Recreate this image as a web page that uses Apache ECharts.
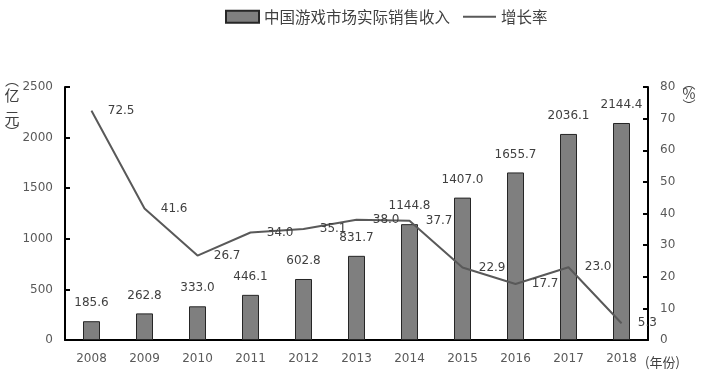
<!DOCTYPE html>
<html><head><meta charset="utf-8">
<script src="https://cdn.jsdelivr.net/npm/echarts@6/dist/echarts.min.js"></script>
<style>html,body{margin:0;padding:0;background:#fff}#c{width:702px;height:375px}</style>
</head><body><div id="c"></div>
<script>
var years = ['2008','2009','2010','2011','2012','2013','2014','2015','2016','2017','2018'];
var revenue = [185.6, 262.8, 333.0, 446.1, 602.8, 831.7, 1144.8, 1407.0, 1655.7, 2036.1, 2144.4];
var growth = [72.5, 41.6, 26.7, 34.0, 35.1, 38.0, 37.7, 22.9, 17.7, 23.0, 5.3];
var barName = '中国游戏市场实际销售收入';
var lineName = '增长率';

var num = 'DejaVu Sans';
var cjk = '"Noto Sans CJK SC"';
var chart = echarts.init(document.getElementById('c'));
var plain = function(v){return String(v);};
chart.setOption({
  animation: false,
  legend: {
    top: 4, left: 220,
    itemWidth: 33, itemHeight: 12, itemGap: 12,
    textStyle: {fontFamily: cjk, fontSize: 15.5, color: '#404040'},
    data: [{name: barName, icon: 'rect'}, {name: lineName, itemStyle: {opacity: 0}}]
  },
  grid: {left: 65, right: 54, top: 87, bottom: 35},
  xAxis: {
    type: 'category', data: years,
    axisLine: {lineStyle: {color: '#000', width: 2}},
    axisTick: {inside: true, length: 6, lineStyle: {color: '#000', width: 2}},
    axisLabel: {fontFamily: num, fontSize: 12, color: '#595959', margin: 13}
  },
  yAxis: [{
    type: 'value', min: 0, max: 2500, interval: 500,
    splitLine: {show: false},
    axisLine: {show: true, lineStyle: {color: '#000', width: 2}},
    axisTick: {show: true, inside: true, length: 5, lineStyle: {color: '#000', width: 2}},
    axisLabel: {fontFamily: num, fontSize: 12, color: '#595959', margin: 12, formatter: plain}
  }, {
    type: 'value', min: 0, max: 80, interval: 10,
    splitLine: {show: false},
    axisLine: {show: true, lineStyle: {color: '#000', width: 2}},
    axisTick: {show: true, inside: true, length: 5, lineStyle: {color: '#000', width: 2}},
    axisLabel: {fontFamily: num, fontSize: 12, color: '#595959', margin: 12, formatter: plain}
  }],
  series: [{
    name: barName, type: 'bar', data: revenue, barWidth: 17,
    itemStyle: {color: '#7f7f7f', borderColor: '#262626', borderWidth: 1},
    label: {show: true, position: 'top', distance: 12, fontFamily: num, fontSize: 12, color: '#404040',
      formatter: function(p){return p.value.toFixed(1);}}
  }, {
    name: lineName, type: 'line', yAxisIndex: 1, data: growth,
    symbol: 'circle', symbolSize: 0.5, showSymbol: true,
    lineStyle: {color: '#595959', width: 2}, itemStyle: {color: '#595959'},
    label: {show: true, position: 'right', distance: 16, fontFamily: num, fontSize: 12, color: '#404040',
      formatter: function(p){return p.value.toFixed(1);}}
  }],
  graphic: [
    {type: 'text', x: 12, y: 80, style: {text: '︵', fontFamily: cjk, fontSize: 14, fill: '#404040', align: 'center', verticalAlign: 'middle'}},
    {type: 'text', x: 12, y: 95, style: {text: '亿', fontFamily: cjk, fontSize: 15, fill: '#404040', align: 'center', verticalAlign: 'middle'}},
    {type: 'text', x: 12, y: 118, style: {text: '元', fontFamily: cjk, fontSize: 15, fill: '#404040', align: 'center', verticalAlign: 'middle'}},
    {type: 'text', x: 12, y: 132, style: {text: '︶', fontFamily: cjk, fontSize: 14, fill: '#404040', align: 'center', verticalAlign: 'middle'}},
    {type: 'text', x: 689, y: 83, style: {text: '︵', fontFamily: cjk, fontSize: 13, fill: '#404040', align: 'center', verticalAlign: 'middle'}},
    {type: 'text', x: 689, y: 94, style: {text: '%', fontFamily: cjk, fontSize: 14, fill: '#404040', align: 'center', verticalAlign: 'middle'}},
    {type: 'text', x: 689, y: 105, style: {text: '︶', fontFamily: cjk, fontSize: 13, fill: '#404040', align: 'center', verticalAlign: 'middle'}},
    {type: 'text', x: 645, y: 362, style: {text: '(年份)', fontFamily: cjk, fontSize: 13, fill: '#404040', verticalAlign: 'middle'}}
  ]
});
</script></body></html>
